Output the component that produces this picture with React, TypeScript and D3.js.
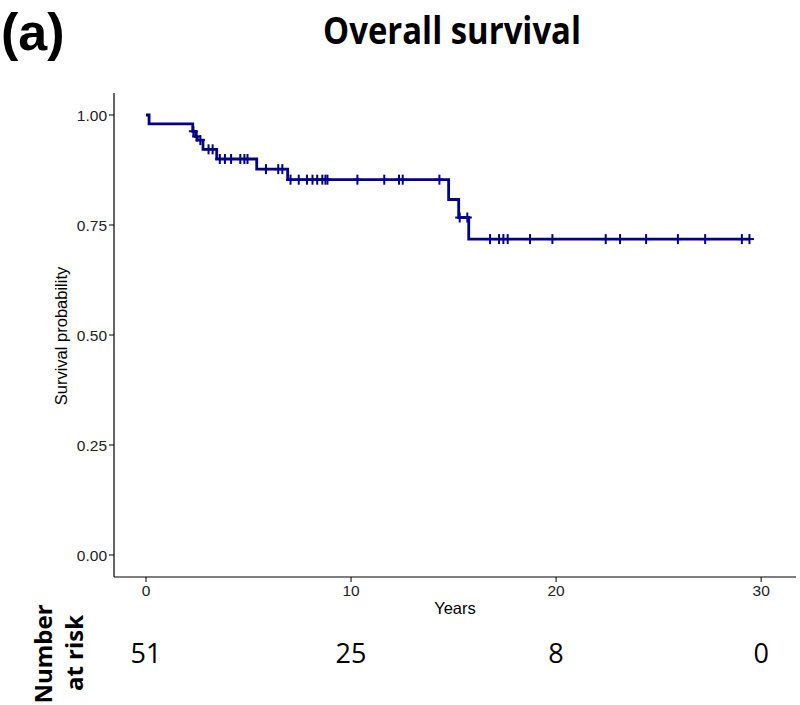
import React from "react";
import * as d3 from "d3";

// Kaplan-Meier step points (time in years, survival probability)
const stepTimes = [0, 0.15, 2.28, 2.42, 2.5, 2.78, 3.45, 5.4, 6.91, 14.76, 15.25, 15.74];
const stepSurv = [1.0, 0.98, 0.963, 0.951, 0.943, 0.922, 0.9, 0.877, 0.853, 0.808, 0.767, 0.718];
const followUpEnd = 29.45;

// censoring times
const censorTimes = [
  2.31, 2.47, 2.65, 3.05, 3.25, 3.6, 3.85, 4.15, 4.6, 4.8, 4.95, 5.85, 6.45, 6.65,
  7.05, 7.45, 7.85, 8.12, 8.35, 8.6, 8.75, 8.85, 10.31, 11.62, 12.34, 12.52, 14.31,
  15.3, 15.67, 16.78, 17.22, 17.43, 17.64, 18.73, 19.82, 22.42, 23.12, 24.39, 25.94,
  27.27, 29.06, 29.43,
];

const xTicks = [0, 10, 20, 30];
const yTicks = [0, 0.25, 0.5, 0.75, 1];
const riskTimes = [0, 10, 20, 30];
const riskCounts = [51, 25, 8, 0];

const W = 800;
const H = 705;
const COLOR = "#00008B";

export default function App() {
  const x = d3.scaleLinear().domain([-1.56, 31.7]).range([114, 796]);
  const y = d3.scaleLinear().domain([-0.05, 1.05]).range([577, 93]);

  const pts: [number, number][] = stepTimes.map((t, i) => [t, stepSurv[i]]);
  pts.push([followUpEnd, stepSurv[stepSurv.length - 1]]);
  const line = d3
    .line<[number, number]>()
    .x((d) => x(d[0]))
    .y((d) => y(d[1]))
    .curve(d3.curveStepAfter);

  const survAt = (t: number) => {
    const i = d3.bisectRight(stepTimes, t) - 1;
    return stepSurv[Math.max(0, i)];
  };

  const fmt = d3.format(".2f");
  const tickFont = "'Liberation Sans', Arial, sans-serif";
  const bigFont = "'Open Sans', 'Noto Sans', sans-serif";

  return (
    <svg
      width={W}
      height={H}
      style={{ position: "absolute", left: 0, top: 0, background: "#fff" }}
    >
      <rect x={0} y={0} width={W} height={H} fill="#fff" />
      {/* panel label & title */}
      <text x={1} y={50} fontFamily={tickFont} fontWeight={700} fontSize={52}>
        (a)
      </text>
      <text
        x={452}
        y={44}
        textAnchor="middle"
        fontFamily={bigFont}
        fontWeight={700}
        fontSize={38}
        textLength={258}
        lengthAdjust="spacingAndGlyphs"
      >
        Overall survival
      </text>

      {/* axes */}
      <line x1={114} x2={114} y1={y(1.05)} y2={y(-0.05)} stroke="#000" strokeWidth={1.2} />
      <line x1={114} x2={796} y1={577} y2={577} stroke="#000" strokeWidth={1.2} />
      {yTicks.map((v) => (
        <g key={"y" + v}>
          <line x1={109} x2={114} y1={y(v)} y2={y(v)} stroke="#000" strokeWidth={1} />
          <text
            x={107}
            y={y(v)}
            dy="0.36em"
            textAnchor="end"
            fontFamily={tickFont}
            fontSize={15.5}
            fill="#222"
          >
            {fmt(v)}
          </text>
        </g>
      ))}
      {xTicks.map((v) => (
        <g key={"x" + v}>
          <line x1={x(v)} x2={x(v)} y1={577} y2={582} stroke="#000" strokeWidth={1} />
          <text
            x={x(v)}
            y={596}
            textAnchor="middle"
            fontFamily={tickFont}
            fontSize={15.5}
            fill="#222"
          >
            {v}
          </text>
        </g>
      ))}
      <text
        x={455}
        y={614}
        textAnchor="middle"
        fontFamily={tickFont}
        fontSize={16.5}
        fill="#000"
      >
        Years
      </text>
      <text
        transform={`translate(67,336) rotate(-90)`}
        textAnchor="middle"
        fontFamily={tickFont}
        fontSize={16.5}
        fill="#000"
      >
        Survival probability
      </text>

      {/* survival curve */}
      <path d={line(pts) || ""} fill="none" stroke={COLOR} strokeWidth={2.8} />
      {censorTimes.map((t, i) => {
        const cx = x(t);
        const cy = y(survAt(t));
        return (
          <g key={"c" + i} stroke={COLOR} strokeWidth={2}>
            <line x1={cx - 4.5} x2={cx + 4.5} y1={cy} y2={cy} />
            <line x1={cx} x2={cx} y1={cy - 5} y2={cy + 5} />
          </g>
        );
      })}

      {/* number at risk */}
      <text
        transform={`translate(51.5,654) rotate(-90)`}
        textAnchor="middle"
        fontFamily={bigFont}
        fontWeight={700}
        fontSize={24}
      >
        Number
      </text>
      <text
        transform={`translate(83,653) rotate(-90)`}
        textAnchor="middle"
        fontFamily={bigFont}
        fontWeight={700}
        fontSize={24}
      >
        at risk
      </text>
      {riskTimes.map((t, i) => (
        <text
          key={"r" + t}
          x={x(t)}
          y={663}
          textAnchor="middle"
          fontFamily={bigFont}
          fontSize={27}
        >
          {riskCounts[i]}
        </text>
      ))}
    </svg>
  );
}
